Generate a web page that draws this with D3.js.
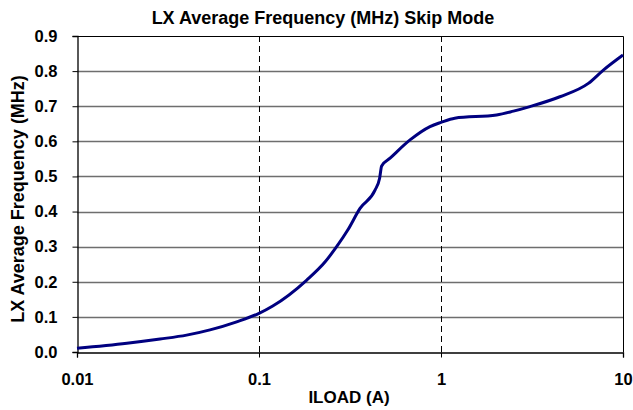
<!DOCTYPE html>
<html>
<head>
<meta charset="utf-8">
<script src="https://cdn.jsdelivr.net/npm/d3@7"></script>
<style>
  html, body { margin: 0; padding: 0; background: #fff; }
  svg { display: block; font-family: "Liberation Sans", Arial, sans-serif; font-weight: bold; }
</style>
</head>
<body>
<svg id="chart" width="633" height="410"></svg>
<script>
// Load current (A) and average LX switching frequency (MHz) in skip mode
const iload = [0.01, 0.0188, 0.0286, 0.04, 0.0538, 0.0754, 0.1, 0.119, 0.183, 0.231, 0.267, 0.308, 0.359, 0.434, 0.46, 0.472, 0.525, 0.676, 0.87, 1.0, 1.19, 2.02, 2.5, 3.08, 4.5, 6.45, 7.8, 10];
const freq  = [0.0105, 0.025, 0.037, 0.048, 0.063, 0.086, 0.11, 0.131, 0.205, 0.257, 0.30, 0.348, 0.409, 0.461, 0.495, 0.53, 0.552, 0.604, 0.642, 0.654, 0.666, 0.675, 0.686, 0.699, 0.727, 0.765, 0.803, 0.846];
const xTicks = [0.01, 0.1, 1, 10];
const yTicks = [0, 0.1, 0.2, 0.3, 0.4, 0.5, 0.6, 0.7, 0.8, 0.9];

const svg = d3.select("#chart");
const plotL = 77, plotR = 623, plotT = 36, plotB = 352;

const x = d3.scaleLog().domain([0.01, 10]).range([plotL, plotR]);
const y = d3.scaleLinear().domain([0, 0.9]).range([plotB, plotT]);

// horizontal grid
svg.append("g").selectAll("line")
  .data(yTicks.filter(v => v > 0 && v < 0.9))
  .join("line")
  .attr("x1", plotL).attr("x2", plotR)
  .attr("y1", d => Math.round(y(d)) + 0.5).attr("y2", d => Math.round(y(d)) + 0.5)
  .attr("stroke", "#6e6e6e").attr("stroke-width", 1.3);

// vertical dashed grid at decades
svg.append("g").selectAll("line")
  .data(xTicks.filter(v => v > 0.01 && v < 10))
  .join("line")
  .attr("x1", d => Math.round(x(d)) + 0.5).attr("x2", d => Math.round(x(d)) + 0.5)
  .attr("y1", plotT).attr("y2", plotB)
  .attr("stroke", "#000").attr("stroke-width", 1)
  .attr("stroke-dasharray", "6,4");

// plot frame (top and right)
svg.append("path")
  .attr("d", `M${plotL},${plotT + 0.5}H${plotR + 0.5}V${plotB}`)
  .attr("fill", "none").attr("stroke", "#000").attr("stroke-width", 1);

// axes
const xAxis = d3.axisBottom(x).tickValues(xTicks).tickFormat(d3.format("~g")).tickSize(5).tickPadding(16);
const yAxis = d3.axisLeft(y).tickValues(yTicks).tickFormat(d3.format(".1f")).tickSize(5).tickPadding(16);

const gx = svg.append("g").attr("transform", `translate(0,${plotB + 0.5})`).call(xAxis);
const gy = svg.append("g").attr("transform", `translate(${plotL + 0.5},0)`).call(yAxis);

[gx, gy].forEach(g => {
  g.select(".domain").attr("stroke", "#000").attr("stroke-width", 1.3);
  g.selectAll(".tick line").attr("stroke", "#000");
  g.selectAll(".tick text")
    .attr("fill", "#000")
    .style("font-family", "'Liberation Sans', Arial, sans-serif")
    .style("font-weight", "bold")
    .style("font-size", "16.5px");
});
gy.selectAll(".tick text").attr("text-anchor", "end").attr("x", -20);

// data line
const line = d3.line()
  .x((d, i) => x(iload[i]))
  .y(d => y(d))
  .curve(d3.curveMonotoneX);

svg.append("path")
  .datum(freq)
  .attr("d", line)
  .attr("fill", "none")
  .attr("stroke", "#000080")
  .attr("stroke-width", 3)
  .attr("stroke-linejoin", "round");

// title and axis labels
svg.append("text")
  .attr("x", 323).attr("y", 24)
  .attr("text-anchor", "middle")
  .style("font-size", "18px")
  .text("LX Average Frequency (MHz) Skip Mode");

svg.append("text")
  .attr("x", 349).attr("y", 403)
  .attr("text-anchor", "middle")
  .style("font-size", "17px")
  .text("ILOAD (A)");

svg.append("text")
  .attr("transform", "translate(24,199) rotate(-90)")
  .attr("text-anchor", "middle")
  .style("font-size", "18px")
  .text("LX Average Frequency (MHz)");
</script>
</body>
</html>
